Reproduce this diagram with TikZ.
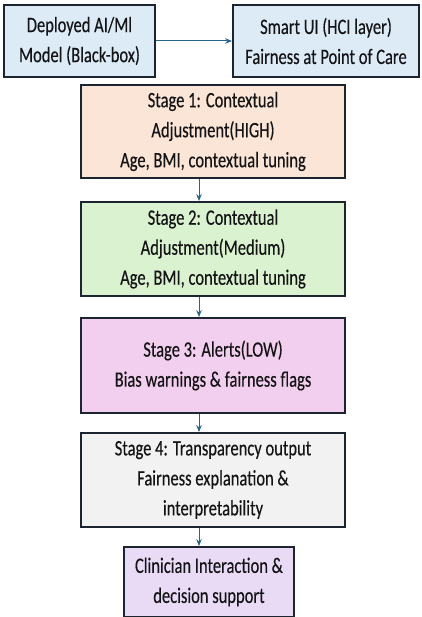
\documentclass[tikz,border=0pt]{standalone}
\usepackage{fontspec}
\setmainfont[FakeStretch=0.75,FakeBold=0.3]{Carlito}
\usetikzlibrary{arrows.meta,positioning,calc}
\definecolor{ink}{RGB}{20,20,22}
\definecolor{frame}{RGB}{28,36,48}
\definecolor{link}{RGB}{38,100,140}
\definecolor{modelfill}{RGB}{221,235,247}
\definecolor{highfill}{RGB}{251,229,214}
\definecolor{medfill}{RGB}{218,242,208}
\definecolor{lowfill}{RGB}{242,207,238}
\definecolor{outfill}{RGB}{242,242,242}
\definecolor{userfill}{RGB}{233,218,245}
\tikzset{
  every picture/.style={color=ink, line width=0.5pt},
  box/.style={draw=frame, line width=1.8pt, inner sep=2pt, align=center,
    font=\fontsize{22}{30}\selectfont, text=ink},
  stagebox/.style={box, minimum width=264pt, minimum height=94pt},
  flow/.style={-{Stealth[length=7pt,width=5.5pt]}, line width=1pt, color=link},
}
\begin{document}
\begin{tikzpicture}[x=1pt,y=-1pt]
  \useasboundingbox (0,0) rectangle (421,617);
  \clip (0,0) rectangle (421,617);
  % top row: model and interface
  \node[box, fill=modelfill, minimum width=151pt, minimum height=72pt] (model) at (79.5,41) {Deployed AI/Ml\\Model (Black-box)};
  \node[box, fill=modelfill, minimum width=186pt, minimum height=72pt] (ui) at (326,41) {Smart UI (HCI layer)\\Fairness at Point of Care};
  % stages
  \node[stagebox, fill=highfill, minimum height=93pt] (s1) at (213,131.5) {Stage 1: Contextual\\Adjustment(HIGH)\\Age, BMI, contextual tuning};
  \node[stagebox, fill=medfill] (s2) at (213,249) {Stage 2: Contextual\\Adjustment(Medium)\\Age, BMI, contextual tuning};
  \node[stagebox, fill=lowfill, minimum height=95pt] (s3) at (213,365.5) {Stage 3: Alerts(LOW)\\Bias warnings \& fairness flags};
  \node[stagebox, fill=outfill] (s4) at (213,480) {Stage 4: Transparency output\\Fairness explanation \&\\interpretability};
  \node[box, fill=userfill, minimum width=170pt, minimum height=70pt] (clin) at (209,582) {Clinician Interaction \&\\decision support};
  % connectors
  \draw[flow] (model.east) -- (ui.west);
  \draw[flow] ([xshift=-14pt]s1.south) -- ([xshift=-14pt]s2.north);
  \draw[flow] ([xshift=-14pt]s2.south) -- ([xshift=-14pt]s3.north);
  \draw[flow] ([xshift=-14pt]s3.south) -- ([xshift=-14pt]s4.north);
  \draw[flow] ([xshift=-14pt]s4.south) -- ([xshift=-10pt]clin.north);
\end{tikzpicture}
\end{document}
